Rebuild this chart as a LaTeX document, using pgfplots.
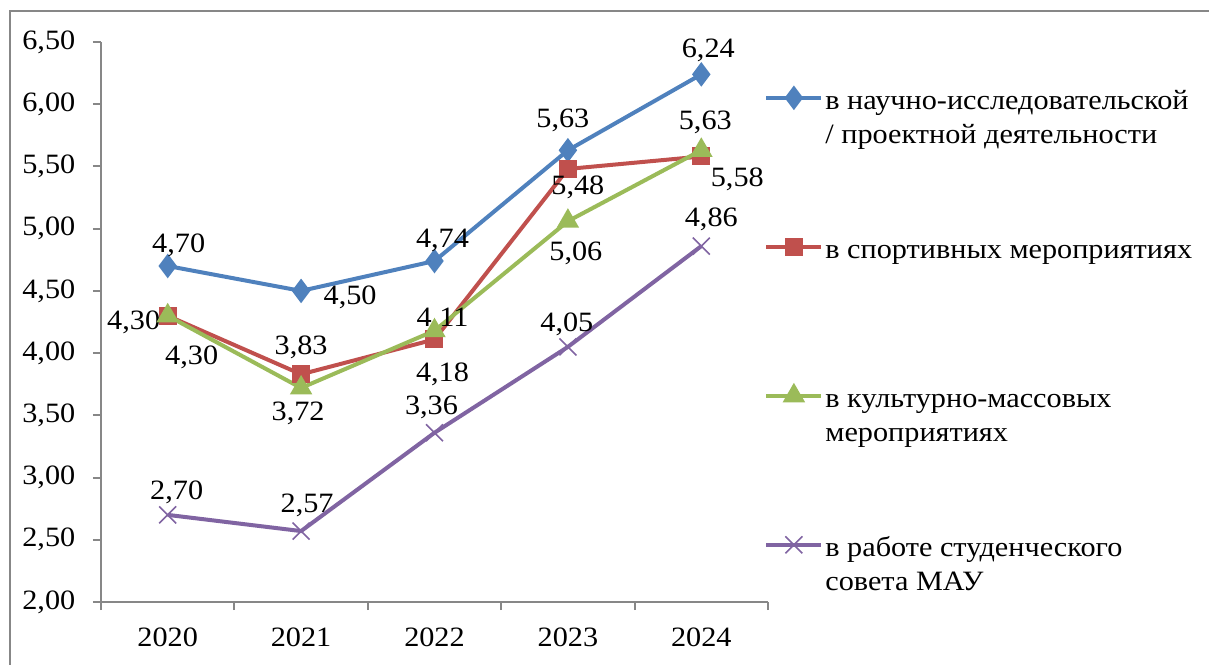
\documentclass[border=0pt]{standalone}
\usepackage{fontspec}
\setmainfont{Liberation Serif}[FakeStretch=1.08]
\usepackage{pgfplots}
\pgfplotsset{compat=1.18}
\usepackage{pgfplotstable}
\definecolor{sblue}{HTML}{4F81BD}
\definecolor{sred}{HTML}{C0504D}
\definecolor{sgreen}{HTML}{9BBB59}
\definecolor{spurple}{HTML}{8064A2}
\definecolor{axgray}{HTML}{878787}

\pgfplotstableread{
x y dx dy
0 4.70 5.5 10.5
1 4.50 24.5 -3
2 4.74 4 10.5
3 5.63 -2.5 15
4 6.24 3.5 12
}\tblue
\pgfplotstableread{
x y dx dy
0 4.30 -17 -3.5
1 3.83 0 13.5
2 4.11 4 10
3 5.48 5 -9
4 5.58 18 -11.5
}\tred
\pgfplotstableread{
x y dx dy
0 4.30 12 -21
1 3.72 -1.5 -12.5
2 4.18 4 -22
3 5.06 4 -16
4 5.63 2 14
}\tgreen
\pgfplotstableread{
x y dx dy
0 2.70 4.5 11.5
1 2.57 3 13
2 3.36 -1.5 12.5
3 4.05 -0.5 11.5
4 4.86 5 13.5
}\tpurple

\newcommand{\lent}[1]{\parbox[t][72.5pt][t]{200pt}{\strut #1}}

\begin{document}
\fontsize{14}{17}\selectfont
\begin{tikzpicture}
\useasboundingbox (-50.5pt,-31pt) rectangle (554pt,301pt);
\draw[axgray, line width=1pt] (-45.5pt,-45pt) -- (-45.5pt,295.5pt) -- (560pt,295.5pt);
\begin{axis}[
  at={(0,0)}, anchor=south west,
  scale only axis, width=333.5pt, height=280pt,
  xmin=-0.5, xmax=4.5, ymin=2, ymax=6.5,
  axis lines*=left,
  axis line style={draw=axgray, line width=1pt},
  tick style={draw=axgray, line width=1pt},
  tick align=outside, major tick length=4pt,
  xtick={-0.5,0.5,...,4.5},
  x tick label as interval,
  xticklabels={2020,2021,2022,2023,2024},
  ytick={2,2.5,...,6.5},
  /pgf/number format/fixed,
  /pgf/number format/fixed zerofill,
  /pgf/number format/precision=2,
  /pgf/number format/use comma,
  /pgf/number format/assume math mode=true,
  ticklabel style={font=\fontsize{14}{17}\selectfont, text=black},
  xticklabel style={yshift=-4pt},
  yticklabel style={xshift=-4pt},
  every axis plot/.append style={line width=2pt},
  nodes near coords,
  visualization depends on={\thisrow{dx}\as\labdx},
  visualization depends on={\thisrow{dy}\as\labdy},
  nodes near coords style={anchor=center, xshift=\labdx pt, yshift=\labdy pt,
     font=\fontsize{14}{17}\selectfont, text=black, inner sep=0pt},
  legend style={at={(rel axis cs:1,1)}, anchor=north west, xshift=-2pt, yshift=-20.8pt,
     draw=none, fill=none, inner sep=0pt, row sep=0pt,
     font=\fontsize{14}{17}\selectfont,
     nodes={inner sep=1pt, text depth=, text height=},
     cells={anchor=base west}},
  legend image code/.code={\draw[mark repeat=2,mark phase=2,#1] plot coordinates {(0pt,6pt) (13.75pt,6pt) (27.5pt,6pt)};},
]
\addplot[color=sblue, mark=diamond*, mark size=4.5pt, mark options={solid}] table[x=x,y=y] {\tblue};
\addlegendentry{\lent{в научно-исследовательской\\/ проектной деятельности}}
\addplot[color=sred, mark=square*, mark size=3.5pt] table[x=x,y=y] {\tred};
\addlegendentry{\lent{в спортивных мероприятиях}}
\addplot[color=sgreen, mark=triangle*, mark size=4.5pt] table[x=x,y=y] {\tgreen};
\addlegendentry{\lent{в культурно-массовых\\мероприятиях}}
\addplot[color=spurple, mark=x, mark size=6pt, mark options={line width=0.8pt}] table[x=x,y=y] {\tpurple};
\addlegendentry{\lent{в работе студенческого\\совета МАУ}}
\end{axis}
\end{tikzpicture}
\end{document}
